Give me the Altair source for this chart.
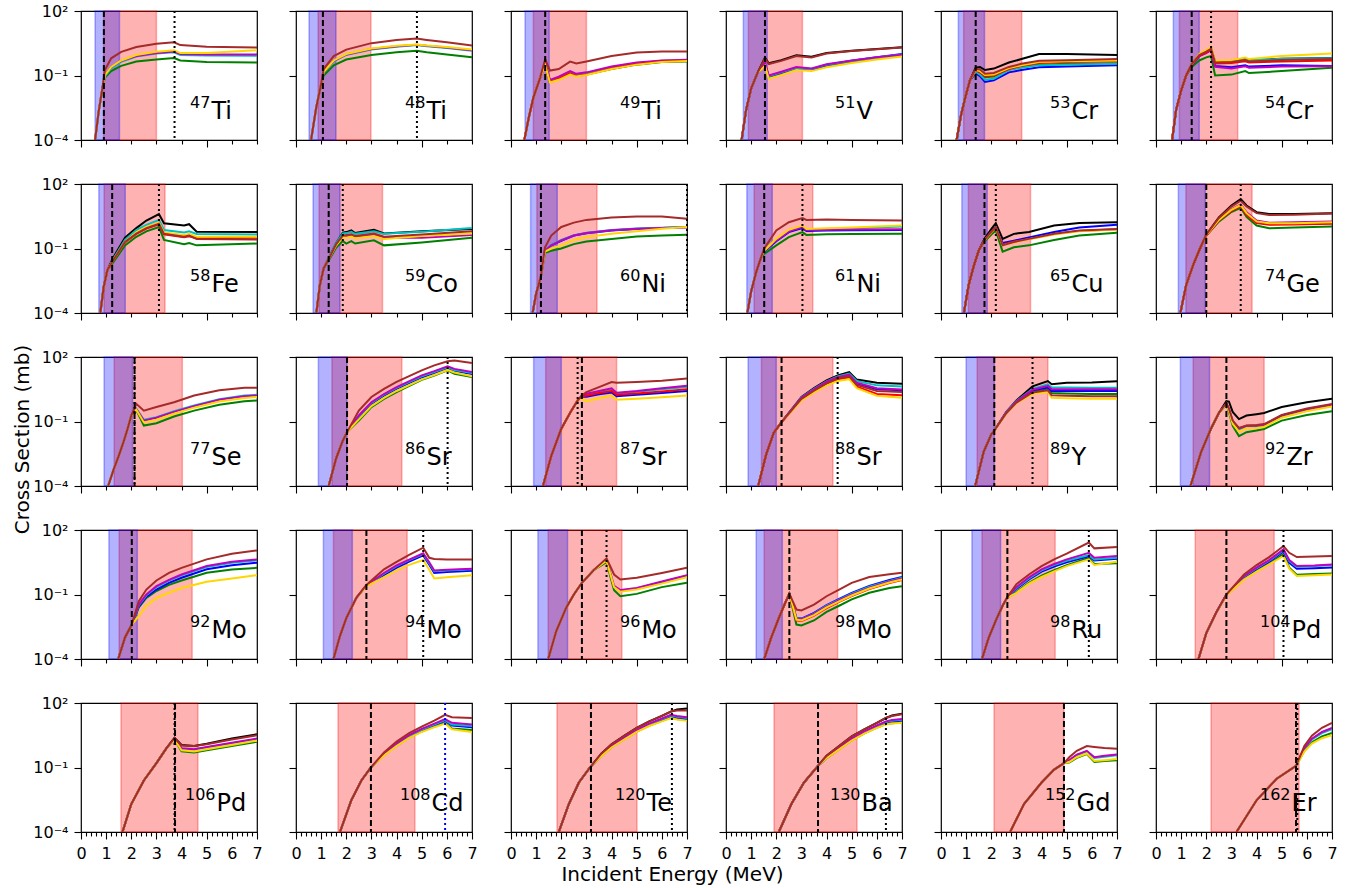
import altair as alt
import pandas as pd

# ---------------------------------------------------------------- panel metadata
ELEMENTS = ["Ti", "Ti", "Ti", "V", "Cr", "Cr",
            "Fe", "Co", "Ni", "Ni", "Cu", "Ge",
            "Se", "Sr", "Sr", "Sr", "Y", "Zr",
            "Mo", "Mo", "Mo", "Mo", "Ru", "Pd",
            "Pd", "Cd", "Te", "Ba", "Gd", "Er"]
MASSES = [47, 48, 49, 51, 53, 54,
          58, 59, 60, 61, 65, 74,
          77, 86, 87, 88, 89, 92,
          92, 94, 96, 98, 98, 104,
          106, 108, 120, 130, 152, 162]

# shaded energy windows (MeV); None = window not drawn
BLUE_LO = [0.56, 0.52, 0.56, 0.69, 0.69, 0.69,
           0.71, 0.68, 0.78, 0.83, 0.83, 0.89,
           0.92, 0.89, 0.90, 0.88, 1.00, 0.97,
           1.11, 1.09, 1.07, 1.20, 1.23, None,
           None, None, None, None, None, None]
BLUE_HI = [1.53, 1.59, 1.52, 1.64, 1.73, 1.72,
           1.76, 1.75, 1.84, 1.84, 1.84, 1.96,
           2.05, 2.03, 2.00, 2.00, 2.12, 2.13,
           2.24, 2.24, 2.25, 2.24, 2.37, None,
           None, None, None, None, None, None]
RED_LO = [0.90, 0.88, 0.89, 0.89, 0.90, 0.93,
          0.92, 0.92, 1.03, 1.12, 1.09, 1.19,
          1.32, 1.43, 1.38, 1.41, 1.44, 1.48,
          1.52, 1.49, 1.48, 1.52, 1.63, 1.56,
          1.59, 1.67, 1.83, 1.91, 2.11, 2.19]
RED_HI = [3.00, 2.98, 3.00, 3.04, 3.21, 3.25,
          3.34, 3.44, 3.42, 3.45, 3.56, 3.82,
          4.03, 4.21, 4.20, 4.25, 4.25, 4.30,
          4.42, 4.42, 4.41, 4.44, 4.54, 4.70,
          4.65, 4.73, 5.01, 5.21, 4.89, 5.69]

# vertical markers (MeV)
DASHED = [0.91, 1.07, 1.36, 1.55, 1.38, 1.42,
          1.24, 1.30, 1.19, 1.52, 1.73, 2.00,
          2.13, 2.03, 2.82, 2.21, 2.12, 2.80,
          2.02, 2.80, 2.82, 2.52, 2.64, 2.80,
          3.74, 2.98, 3.18, 3.66, 4.89, 5.57]
DOTTED = [3.72, 4.81, None, None, None, 2.19,
          3.10, 1.86, 7.00, 3.04, 2.18, 3.37,
          2.13, 6.03, 2.65, 4.44, 3.64, None,
          None, 5.06, 3.80, None, 5.88, 5.07,
          3.72, 5.93, 6.40, 6.36, None, 5.62]
DOTTED_COLOR = ["#000000"] * 25 + ["#0000ff"] + ["#000000"] * 4

# ---------------------------------------------------------------- cross sections (mb)
# "rise": common low-energy branch [E, sigma]; "x": energies of the branch-resolved part
TI47 = {"rise": [[0.56, 0.0001], [0.7, 0.002], [0.85, 0.025]],
        "x": [0.95, 1.2, 1.6, 2.2, 3.0, 3.7, 3.95, 5.0, 7.0],
        "brown": [0.18, 0.63, 1.26, 2.1, 3.0, 3.5, 2.6, 2.2, 2.0],
        "gold": [0.1, 0.25, 0.5, 0.9, 1.26, 1.5, 1.1, 1.1, 1.5],
        "magenta": [0.1, 0.25, 0.48, 0.8, 1.1, 1.3, 1.0, 0.95, 0.95],
        "cyan": [0.09, 0.22, 0.43, 0.76, 1.05, 1.2, 0.9, 0.85, 0.83],
        "green": [0.08, 0.16, 0.28, 0.45, 0.56, 0.65, 0.5, 0.42, 0.4]}
TI48 = {"rise": [[0.6, 0.0001], [0.8, 0.003], [1.0, 0.04]],
        "x": [1.1, 1.5, 2.0, 3.0, 4.0, 4.8, 5.2, 6.0, 7.0],
        "brown": [0.2, 0.8, 1.6, 3.2, 4.5, 5.2, 4.5, 3.5, 2.5],
        "gold": [0.15, 0.5, 1.0, 1.8, 2.4, 2.8, 2.5, 2.1, 1.6],
        "magenta": [0.15, 0.48, 0.95, 1.7, 2.3, 2.7, 2.4, 2.0, 1.5],
        "cyan": [0.14, 0.45, 0.9, 1.6, 2.2, 2.6, 2.3, 1.9, 1.4],
        "green": [0.1, 0.3, 0.55, 0.9, 1.2, 1.4, 1.2, 0.95, 0.7]}
TI49 = {"rise": [[0.53, 0.0001], [0.7, 0.001], [0.89, 0.0095], [1.16, 0.079]],
        "x": [1.36, 1.55, 1.9, 2.35, 2.6, 3.0, 4.0, 5.0, 6.0, 7.0],
        "brown": [0.58, 0.17, 0.2, 0.44, 0.36, 0.45, 0.81, 1.17, 1.29, 1.29],
        "magenta": [0.35, 0.063, 0.089, 0.16, 0.12, 0.14, 0.26, 0.4, 0.5, 0.54],
        "cyan": [0.34, 0.056, 0.079, 0.14, 0.107, 0.126, 0.23, 0.36, 0.48, 0.51],
        "red": [0.32, 0.05, 0.071, 0.126, 0.095, 0.11, 0.21, 0.33, 0.45, 0.48],
        "gold": [0.3, 0.047, 0.063, 0.11, 0.089, 0.105, 0.2, 0.32, 0.43, 0.47],
        "green": [0.32, 0.05, 0.071, 0.126, 0.095, 0.11, 0.2, 0.32, 0.42, 0.45]}
V51 = {"rise": [[0.62, 0.0001], [0.8, 0.0025], [1.0, 0.025], [1.25, 0.13]],
       "x": [1.55, 1.7, 2.2, 2.8, 3.4, 4.0, 5.0, 6.0, 7.0],
       "black": [0.68, 0.37, 0.52, 0.87, 0.74, 1.1, 1.42, 1.7, 2.05],
       "brown": [0.63, 0.34, 0.48, 0.81, 0.69, 1.05, 1.38, 1.66, 2.0],
       "magenta": [0.38, 0.1, 0.15, 0.25, 0.21, 0.33, 0.5, 0.71, 0.93],
       "cyan": [0.35, 0.093, 0.14, 0.23, 0.2, 0.32, 0.48, 0.69, 0.95],
       "blue": [0.34, 0.087, 0.126, 0.22, 0.19, 0.3, 0.48, 0.71, 1.0],
       "green": [0.32, 0.083, 0.12, 0.21, 0.18, 0.28, 0.44, 0.63, 0.87],
       "gold": [0.28, 0.071, 0.105, 0.18, 0.16, 0.24, 0.38, 0.55, 0.76]}
CR53 = {"rise": [[0.62, 0.0001], [0.8, 0.0015], [0.95, 0.008], [1.15, 0.06]],
        "x": [1.38, 1.55, 1.75, 2.1, 2.7, 3.2, 3.9, 5.0, 7.0],
        "black": [0.23, 0.25, 0.18, 0.21, 0.4, 0.58, 1.0, 1.0, 0.89],
        "brown": [0.2, 0.19, 0.12, 0.13, 0.25, 0.35, 0.48, 0.51, 0.58],
        "gold": [0.18, 0.16, 0.105, 0.11, 0.22, 0.3, 0.42, 0.46, 0.5],
        "red": [0.17, 0.14, 0.093, 0.1, 0.2, 0.28, 0.38, 0.42, 0.46],
        "green": [0.16, 0.126, 0.083, 0.089, 0.19, 0.25, 0.32, 0.35, 0.37],
        "cyan": [0.15, 0.11, 0.063, 0.071, 0.18, 0.23, 0.3, 0.32, 0.35],
        "blue": [0.126, 0.093, 0.05, 0.06, 0.14, 0.18, 0.24, 0.26, 0.3]}
CR54 = {"rise": [[0.64, 0.0001], [0.8, 0.0025], [1.0, 0.02], [1.2, 0.1]],
        "x": [1.42, 1.72, 2.0, 2.19, 2.35, 3.0, 3.55, 3.7, 5.0, 7.0],
        "gold": [0.34, 1.0, 1.5, 2.14, 0.48, 0.51, 0.69, 0.58, 0.81, 1.05],
        "black": [0.34, 0.95, 1.4, 1.9, 0.45, 0.48, 0.6, 0.52, 0.6, 0.65],
        "cyan": [0.33, 0.9, 1.3, 1.8, 0.44, 0.46, 0.56, 0.5, 0.6, 0.63],
        "brown": [0.34, 0.9, 1.3, 1.75, 0.4, 0.42, 0.52, 0.45, 0.52, 0.58],
        "red": [0.32, 0.85, 1.2, 1.6, 0.36, 0.38, 0.46, 0.4, 0.45, 0.5],
        "blue": [0.3, 0.8, 1.15, 1.55, 0.28, 0.24, 0.3, 0.26, 0.3, 0.28],
        "magenta": [0.3, 0.8, 1.1, 1.5, 0.25, 0.21, 0.27, 0.23, 0.26, 0.27],
        "green": [0.25, 0.5, 0.7, 0.81, 0.1, 0.11, 0.16, 0.13, 0.16, 0.23]}
FE58 = {"rise": [[0.77, 0.0001], [0.9, 0.0016], [1.05, 0.01]],
        "x": [1.25, 1.75, 2.2, 2.6, 3.1, 3.3, 4.1, 4.3, 4.6, 7.0],
        "black": [0.032, 0.32, 0.89, 2.0, 4.0, 1.5, 1.17, 1.35, 0.6, 0.58],
        "cyan": [0.028, 0.25, 0.71, 1.26, 2.14, 0.72, 0.56, 0.63, 0.47, 0.45],
        "gold": [0.025, 0.2, 0.56, 1.0, 1.58, 0.56, 0.42, 0.48, 0.35, 0.35],
        "red": [0.025, 0.19, 0.48, 0.85, 1.32, 0.45, 0.33, 0.37, 0.3, 0.32],
        "brown": [0.025, 0.2, 0.5, 0.89, 1.41, 0.48, 0.35, 0.4, 0.28, 0.26],
        "green": [0.02, 0.14, 0.35, 0.63, 1.0, 0.25, 0.16, 0.18, 0.14, 0.17]}
CO59 = {"rise": [[0.81, 0.0001], [0.95, 0.002], [1.1, 0.012]],
        "x": [1.3, 1.6, 1.86, 2.0, 2.2, 2.35, 3.1, 3.5, 5.0, 7.0],
        "black": [0.035, 0.18, 0.54, 0.58, 0.69, 0.52, 0.74, 0.5, 0.63, 0.81],
        "cyan": [0.035, 0.18, 0.5, 0.52, 0.6, 0.48, 0.63, 0.48, 0.6, 0.89],
        "brown": [0.032, 0.16, 0.4, 0.42, 0.46, 0.38, 0.5, 0.35, 0.45, 0.63],
        "gold": [0.032, 0.14, 0.33, 0.32, 0.36, 0.3, 0.38, 0.28, 0.38, 0.5],
        "magenta": [0.032, 0.14, 0.35, 0.35, 0.4, 0.33, 0.42, 0.32, 0.32, 0.42],
        "green": [0.028, 0.11, 0.22, 0.17, 0.22, 0.17, 0.24, 0.14, 0.19, 0.32]}
NI60 = {"rise": [[0.86, 0.0001], [1.0, 0.0008], [1.19, 0.005]],
        "x": [1.35, 1.6, 2.0, 2.5, 3.0, 4.0, 5.0, 6.0, 7.0],
        "brown": [0.11, 0.4, 1.0, 1.6, 2.14, 2.8, 3.1, 3.1, 2.4],
        "magenta": [0.079, 0.14, 0.24, 0.4, 0.52, 0.71, 0.83, 0.91, 0.95],
        "cyan": [0.079, 0.15, 0.25, 0.42, 0.54, 0.72, 0.85, 0.93, 1.0],
        "blue": [0.079, 0.14, 0.23, 0.4, 0.51, 0.69, 0.81, 0.91, 1.0],
        "gold": [0.071, 0.1, 0.14, 0.25, 0.34, 0.48, 0.63, 0.83, 1.0],
        "green": [0.063, 0.079, 0.1, 0.16, 0.21, 0.28, 0.36, 0.4, 0.44]}
NI61 = {"rise": [[0.85, 0.0001], [1.0, 0.001], [1.2, 0.008], [1.4, 0.04]],
        "x": [1.52, 2.0, 2.5, 3.04, 3.2, 4.0, 5.0, 7.0],
        "brown": [0.1, 0.69, 1.66, 2.63, 2.14, 2.24, 2.14, 2.0],
        "gold": [0.079, 0.28, 0.74, 1.17, 0.81, 0.87, 0.95, 1.17],
        "cyan": [0.079, 0.25, 0.66, 1.05, 0.76, 0.79, 0.87, 1.05],
        "magenta": [0.076, 0.24, 0.63, 1.0, 0.72, 0.74, 0.76, 0.79],
        "blue": [0.072, 0.22, 0.58, 0.89, 0.66, 0.69, 0.71, 0.72],
        "green": [0.056, 0.14, 0.34, 0.58, 0.42, 0.46, 0.47, 0.48]}
CU65 = {"rise": [[0.91, 0.0001], [1.1, 0.002], [1.3, 0.015], [1.5, 0.08]],
        "x": [1.73, 2.0, 2.18, 2.45, 2.9, 3.5, 4.5, 5.5, 7.0],
        "black": [0.28, 0.79, 1.51, 0.28, 0.48, 0.58, 1.17, 1.55, 1.66],
        "blue": [0.25, 0.63, 1.0, 0.18, 0.23, 0.33, 0.58, 0.95, 1.26],
        "red": [0.24, 0.56, 0.89, 0.15, 0.21, 0.28, 0.47, 0.66, 0.79],
        "gold": [0.24, 0.56, 0.93, 0.14, 0.19, 0.27, 0.45, 0.63, 0.76],
        "brown": [0.25, 0.6, 1.0, 0.14, 0.2, 0.28, 0.48, 0.68, 0.81],
        "green": [0.21, 0.45, 0.69, 0.072, 0.115, 0.14, 0.25, 0.4, 0.54]}
GE74 = {"rise": [[0.97, 0.0001], [1.2, 0.002], [1.5, 0.02], [1.75, 0.1]],
        "x": [2.0, 2.5, 3.0, 3.37, 3.6, 4.0, 4.5, 5.5, 7.0],
        "black": [0.44, 2.82, 10, 20, 10, 4.9, 4.0, 4.0, 4.4],
        "brown": [0.44, 2.63, 8.9, 16.6, 8.9, 4.4, 3.6, 3.7, 4.2],
        "magenta": [0.42, 2.24, 6.6, 11.2, 4.8, 2.0, 1.58, 1.66, 1.82],
        "gold": [0.42, 2.14, 6.3, 10.5, 4.4, 1.82, 1.48, 1.51, 1.66],
        "cyan": [0.42, 2.1, 6.0, 10, 4.0, 1.66, 1.35, 1.41, 1.51],
        "red": [0.4, 2.0, 5.6, 9.3, 3.7, 1.51, 1.26, 1.32, 1.41],
        "green": [0.4, 1.78, 5.0, 7.8, 3.0, 1.17, 0.87, 0.95, 1.05]}
SE77 = {"rise": [[1.08, 0.0001], [1.3, 0.0006], [1.5, 0.0025], [1.7, 0.012], [1.85, 0.045]],
        "x": [2.0, 2.2, 2.5, 3.0, 3.7, 4.5, 5.5, 6.5, 7.0],
        "brown": [0.19, 0.66, 0.32, 0.47, 0.79, 1.62, 2.82, 3.7, 3.7],
        "cyan": [0.19, 0.39, 0.12, 0.16, 0.3, 0.56, 1.1, 1.6, 1.74],
        "magenta": [0.19, 0.37, 0.11, 0.15, 0.28, 0.52, 1.02, 1.5, 1.62],
        "gold": [0.19, 0.35, 0.09, 0.12, 0.23, 0.44, 0.85, 1.25, 1.38],
        "green": [0.19, 0.34, 0.065, 0.083, 0.17, 0.32, 0.6, 0.87, 0.95]}
SR86 = {"rise": [[1.3, 0.0001], [1.6, 0.002], [1.85, 0.012], [2.03, 0.032]],
        "x": [2.5, 3.0, 3.5, 4.0, 5.0, 5.5, 6.03, 6.3, 7.0],
        "brown": [0.32, 1.38, 3.3, 6.9, 24, 41, 63, 68, 52],
        "magenta": [0.19, 0.79, 1.9, 4.0, 14, 22, 37, 28, 20],
        "cyan": [0.18, 0.74, 1.78, 3.7, 12.6, 20, 33, 25, 18],
        "blue": [0.16, 0.66, 1.58, 3.3, 11.2, 18, 30, 22, 16],
        "gold": [0.126, 0.52, 1.26, 2.63, 9.1, 14.5, 25, 19, 12.6],
        "green": [0.11, 0.47, 1.12, 2.34, 8.7, 13.8, 24, 16.6, 11.7]}
SR87 = {"rise": [[1.27, 0.0001], [1.6, 0.0025], [2.0, 0.046], [2.4, 0.32], [2.65, 0.95]],
        "x": [2.82, 3.0, 3.5, 4.0, 4.2, 5.0, 6.0, 7.0],
        "brown": [1.62, 2.34, 4.0, 6.9, 6.3, 6.9, 7.9, 10],
        "magenta": [1.62, 1.95, 2.63, 3.5, 2.2, 2.63, 3.55, 4.6],
        "cyan": [1.58, 1.78, 2.4, 3.16, 2.0, 2.4, 3.16, 4.0],
        "red": [1.51, 1.58, 2.1, 2.63, 1.74, 2.0, 2.51, 3.16],
        "blue": [1.45, 1.41, 1.86, 2.24, 1.51, 1.74, 2.14, 2.63],
        "gold": [1.15, 0.89, 1.2, 1.62, 1.02, 1.15, 1.35, 1.62]}
SR88 = {"rise": [[1.28, 0.0001], [1.6, 0.003], [1.9, 0.03]],
        "x": [2.21, 3.0, 3.5, 4.0, 4.44, 4.9, 5.2, 6.0, 7.0],
        "black": [0.093, 1.38, 3.55, 8.1, 14, 20, 8.9, 6.3, 5.75],
        "cyan": [0.093, 1.32, 3.3, 7.4, 12.6, 17, 7.6, 4.8, 4.3],
        "magenta": [0.093, 1.26, 3.16, 7.1, 11.5, 15, 6.3, 3.55, 3.1],
        "blue": [0.093, 1.2, 3.0, 6.6, 10.7, 14, 5.75, 3.16, 2.82],
        "brown": [0.093, 1.12, 2.75, 6.0, 10, 12.6, 5.0, 2.63, 2.34],
        "red": [0.093, 1.07, 2.5, 5.5, 8.9, 11.2, 4.2, 1.9, 1.66],
        "gold": [0.093, 0.95, 2.24, 4.8, 7.6, 9.3, 3.55, 1.58, 1.26]}
Y89 = {"rise": [[1.36, 0.0001], [1.7, 0.004], [2.0, 0.025]],
       "x": [2.12, 2.6, 3.0, 3.64, 4.25, 4.4, 5.0, 6.0, 7.0],
       "black": [0.038, 0.28, 0.95, 4.3, 7.6, 5.4, 6.3, 6.6, 7.4],
       "cyan": [0.038, 0.28, 0.89, 3.3, 5.4, 3.8, 3.8, 3.7, 3.7],
       "magenta": [0.038, 0.27, 0.85, 3.0, 4.6, 3.16, 3.16, 3.16, 3.16],
       "blue": [0.038, 0.26, 0.83, 2.82, 3.8, 2.63, 2.7, 2.63, 2.63],
       "green": [0.038, 0.25, 0.79, 2.5, 3.16, 2.1, 2.0, 1.9, 1.9],
       "brown": [0.038, 0.25, 0.76, 2.24, 2.82, 1.66, 1.58, 1.51, 1.51],
       "gold": [0.038, 0.24, 0.71, 1.95, 2.34, 1.26, 1.2, 1.15, 1.15]}
ZR92 = {"rise": [[1.37, 0.0001], [1.8, 0.004], [2.2, 0.05], [2.5, 0.25]],
        "x": [2.8, 2.9, 3.05, 3.3, 3.6, 4.0, 4.3, 5.0, 6.0, 7.0],
        "black": [0.89, 0.85, 0.28, 0.13, 0.19, 0.22, 0.25, 0.47, 0.79, 1.15],
        "brown": [0.71, 0.4, 0.11, 0.05, 0.066, 0.068, 0.076, 0.2, 0.4, 0.66],
        "magenta": [0.69, 0.38, 0.105, 0.047, 0.063, 0.063, 0.071, 0.19, 0.37, 0.6],
        "cyan": [0.68, 0.36, 0.1, 0.043, 0.058, 0.059, 0.066, 0.17, 0.35, 0.56],
        "gold": [0.63, 0.32, 0.079, 0.033, 0.048, 0.05, 0.056, 0.15, 0.3, 0.5],
        "green": [0.6, 0.28, 0.063, 0.021, 0.032, 0.038, 0.045, 0.11, 0.2, 0.3]}
MO92 = {"rise": [[1.48, 0.0001], [1.75, 0.001], [2.02, 0.004]],
        "x": [2.3, 2.6, 3.0, 3.5, 4.0, 5.0, 6.0, 7.0],
        "brown": [0.049, 0.17, 0.45, 1.02, 1.74, 4.3, 7.9, 11.2],
        "magenta": [0.034, 0.1, 0.245, 0.48, 0.85, 2.1, 3.3, 4.3],
        "cyan": [0.032, 0.092, 0.22, 0.44, 0.78, 1.9, 3.0, 3.9],
        "blue": [0.028, 0.08, 0.17, 0.35, 0.6, 1.48, 2.3, 3.0],
        "green": [0.025, 0.07, 0.145, 0.28, 0.45, 1.02, 1.45, 1.74],
        "gold": [0.01, 0.03, 0.069, 0.12, 0.2, 0.39, 0.56, 0.79]}
MO94 = {"rise": [[1.49, 0.0001], [1.75, 0.0012], [2.0, 0.008], [2.4, 0.07]],
        "x": [2.8, 3.5, 4.0, 4.5, 5.06, 5.3, 5.5, 6.0, 7.0],
        "brown": [0.28, 1.48, 3.3, 6.9, 15, 5.1, 4.5, 4.2, 4.3],
        "magenta": [0.26, 1.0, 2.24, 4.2, 8.3, 3.16, 1.32, 1.41, 1.58],
        "cyan": [0.26, 0.93, 2.1, 4.0, 7.6, 2.82, 1.2, 1.32, 1.48],
        "blue": [0.25, 0.79, 1.78, 3.4, 6.6, 2.4, 1.0, 1.1, 1.26],
        "gold": [0.24, 0.65, 1.32, 2.4, 4.0, 1.41, 0.56, 0.63, 0.79]}
MO96 = {"rise": [[1.48, 0.0001], [1.8, 0.002], [2.2, 0.025], [2.5, 0.1], [2.82, 0.35], [3.3, 1.4]],
        "x": [3.8, 4.1, 4.35, 5.0, 6.0, 7.0],
        "brown": [4.8, 0.85, 0.5, 0.6, 1.0, 1.74],
        "magenta": [4.0, 0.25, 0.16, 0.2, 0.4, 0.79],
        "cyan": [3.9, 0.23, 0.15, 0.19, 0.37, 0.74],
        "gold": [3.7, 0.22, 0.135, 0.17, 0.32, 0.63],
        "green": [3.16, 0.16, 0.083, 0.107, 0.22, 0.35]}
MO98 = {"rise": [[1.52, 0.0001], [1.8, 0.001], [2.1, 0.008], [2.35, 0.04]],
        "x": [2.52, 2.8, 3.0, 3.5, 4.0, 4.5, 5.0, 5.7, 6.5, 7.0],
        "brown": [0.11, 0.02, 0.018, 0.034, 0.083, 0.17, 0.35, 0.65, 0.87, 1.02],
        "blue": [0.11, 0.0083, 0.0076, 0.014, 0.032, 0.063, 0.12, 0.25, 0.47, 0.65],
        "cyan": [0.11, 0.008, 0.0072, 0.013, 0.03, 0.058, 0.11, 0.23, 0.43, 0.6],
        "magenta": [0.11, 0.0075, 0.007, 0.0125, 0.028, 0.054, 0.1, 0.21, 0.4, 0.56],
        "gold": [0.11, 0.0068, 0.0062, 0.011, 0.025, 0.048, 0.09, 0.19, 0.36, 0.5],
        "red": [0.11, 0.0063, 0.0058, 0.0105, 0.023, 0.045, 0.085, 0.18, 0.34, 0.47],
        "green": [0.11, 0.004, 0.0036, 0.0062, 0.0155, 0.03, 0.059, 0.12, 0.2, 0.245]}
RU98 = {"rise": [[1.63, 0.0001], [1.9, 0.001], [2.2, 0.007], [2.45, 0.03]],
        "x": [2.64, 3.0, 3.5, 4.0, 4.5, 5.0, 5.88, 6.1, 7.0],
        "brown": [0.076, 0.3, 0.85, 2.1, 4.3, 7.9, 26, 14, 16],
        "magenta": [0.076, 0.22, 0.63, 1.48, 2.63, 4.3, 8.7, 5.1, 6.2],
        "cyan": [0.074, 0.2, 0.56, 1.32, 2.34, 3.7, 6.8, 4.3, 5.1],
        "blue": [0.072, 0.18, 0.5, 1.15, 2.0, 3.16, 6.0, 3.8, 4.6],
        "green": [0.071, 0.13, 0.35, 0.76, 1.35, 2.3, 5.0, 2.63, 2.82],
        "gold": [0.071, 0.12, 0.32, 0.65, 1.2, 2.1, 4.3, 2.34, 3.3]}
PD104 = {"rise": [[1.69, 0.0001], [2.0, 0.0016], [2.4, 0.015]],
         "x": [2.8, 3.5, 4.0, 4.5, 5.07, 5.3, 5.6, 6.3, 7.0],
         "brown": [0.1, 0.85, 2.34, 5.5, 18, 8.7, 5.5, 5.9, 6.2],
         "magenta": [0.1, 0.71, 1.78, 4.0, 12.6, 4.0, 2.1, 2.24, 2.5],
         "cyan": [0.1, 0.68, 1.66, 3.7, 11.5, 3.55, 1.9, 2.1, 2.34],
         "blue": [0.095, 0.63, 1.51, 3.3, 10, 3.0, 1.58, 1.66, 1.78],
         "green": [0.093, 0.54, 1.26, 2.63, 7.6, 1.78, 0.83, 0.89, 0.95],
         "gold": [0.089, 0.5, 1.15, 2.5, 6.2, 1.58, 0.72, 0.79, 0.85]}
PD106 = {"rise": [[1.65, 0.0001], [2.0, 0.002], [2.5, 0.025], [3.0, 0.16], [3.4, 0.8]],
         "x": [3.72, 4.0, 4.5, 5.0, 6.0, 7.0],
         "black": [2.4, 1.12, 1.0, 1.26, 2.24, 3.5],
         "brown": [2.3, 1.05, 1.0, 1.2, 2.0, 3.16],
         "magenta": [2.14, 0.79, 0.71, 0.89, 1.41, 2.24],
         "cyan": [2.1, 0.74, 0.68, 0.85, 1.35, 2.1],
         "gold": [2.0, 0.63, 0.56, 0.71, 1.12, 1.78],
         "green": [2.0, 0.56, 0.5, 0.63, 1.0, 1.58]}
CD108 = {"rise": [[1.75, 0.0001], [2.2, 0.003], [2.6, 0.025]],
         "x": [2.98, 3.5, 4.0, 4.5, 5.0, 5.5, 5.93, 6.2, 7.0],
         "brown": [0.1, 0.5, 1.6, 4.0, 8.0, 15, 28, 22, 20],
         "magenta": [0.1, 0.45, 1.3, 3.2, 6.3, 11, 18, 12, 10],
         "cyan": [0.1, 0.42, 1.2, 3.0, 5.8, 10, 16, 10, 8.5],
         "blue": [0.1, 0.4, 1.15, 2.8, 5.5, 9.5, 15, 9, 7.5],
         "green": [0.1, 0.38, 1.05, 2.5, 4.8, 8.0, 12, 6.5, 5.5],
         "gold": [0.1, 0.36, 1.0, 2.4, 4.5, 7.5, 11, 6.0, 4.5]}
TE120 = {"rise": [[1.9, 0.0001], [2.3, 0.002], [2.7, 0.02]],
         "x": [3.14, 3.6, 4.0, 4.5, 5.0, 5.5, 6.0, 6.36, 6.6, 7.0],
         "black": [0.1, 0.45, 1.2, 3.0, 7, 14, 25, 40, 50, 55],
         "brown": [0.1, 0.45, 1.2, 3.0, 7, 14, 25, 40, 45, 45],
         "magenta": [0.1, 0.4, 1.0, 2.5, 5.5, 11, 19, 28, 25, 22],
         "cyan": [0.1, 0.39, 0.97, 2.4, 5.2, 10.5, 18, 26, 23, 20],
         "blue": [0.1, 0.38, 0.93, 2.3, 5.0, 10, 17, 24, 21, 18],
         "green": [0.1, 0.36, 0.88, 2.1, 4.7, 9, 15, 21, 18, 16],
         "gold": [0.1, 0.35, 0.85, 2.0, 4.5, 8.5, 14, 20, 17, 15]}
BA130 = {"rise": [[2.1, 0.0001], [2.6, 0.002], [3.1, 0.02]],
         "x": [3.66, 4.0, 4.5, 5.0, 5.5, 6.0, 6.36, 6.6, 7.0],
         "black": [0.12, 0.35, 1.0, 2.8, 6, 12, 20, 26, 32],
         "brown": [0.12, 0.35, 1.0, 2.8, 6, 12, 20, 25, 30],
         "magenta": [0.12, 0.3, 0.85, 2.2, 4.8, 9, 14, 16, 18],
         "cyan": [0.12, 0.29, 0.8, 2.1, 4.5, 8.5, 13, 15, 16.5],
         "blue": [0.12, 0.28, 0.77, 2.0, 4.3, 8, 12, 14, 15],
         "green": [0.12, 0.27, 0.72, 1.85, 3.9, 7.2, 10.5, 11.5, 12.5],
         "gold": [0.12, 0.27, 0.7, 1.8, 3.8, 7, 10, 11, 12]}
GD152 = {"rise": [[2.75, 0.0001], [3.3, 0.002], [4.0, 0.02], [4.5, 0.08]],
         "x": [4.89, 5.1, 5.4, 5.8, 6.1, 6.5, 7.0],
         "brown": [0.16, 0.3, 0.6, 1.0, 0.9, 0.8, 0.75],
         "magenta": [0.16, 0.22, 0.4, 0.6, 0.3, 0.35, 0.4],
         "cyan": [0.16, 0.21, 0.37, 0.55, 0.28, 0.32, 0.37],
         "gold": [0.16, 0.18, 0.3, 0.45, 0.2, 0.22, 0.25],
         "green": [0.16, 0.17, 0.28, 0.42, 0.18, 0.2, 0.22]}
ER162 = {"rise": [[3.2, 0.0001], [4.0, 0.003], [4.8, 0.03]],
         "x": [5.57, 5.9, 6.2, 6.6, 7.0],
         "brown": [0.12, 1.0, 3.0, 7.0, 12],
         "magenta": [0.12, 0.8, 2.2, 4.5, 7.0],
         "cyan": [0.12, 0.75, 2.0, 4.0, 6.0],
         "green": [0.12, 0.6, 1.5, 2.8, 4.0],
         "gold": [0.12, 0.55, 1.3, 2.3, 3.2]}

CURVES = [TI47, TI48, TI49, V51, CR53, CR54,
          FE58, CO59, NI60, NI61, CU65, GE74,
          SE77, SR86, SR87, SR88, Y89, ZR92,
          MO92, MO94, MO96, MO98, RU98, PD104,
          PD106, CD108, TE120, BA130, GD152, ER162]

# drawing order (first = bottom) and line colours
SERIES = ["black", "green", "blue", "cyan", "magenta", "red", "orange", "gold", "brown"]
SERIES_COLORS = ["#000000", "#008000", "#0000ff", "#00bfbf", "#bf00bf",
                 "#ff0000", "#ffa500", "#ffd700", "#a52a2a"]

# x tick positions: every 0.2 MeV on the labelled bottom row, whole MeV elsewhere
BOTTOM_TICKS = [round(0.2 * k, 1) for k in range(36)]
UPPER_TICKS = list(range(8))

# ---------------------------------------------------------------- layout
PANEL_W, PANEL_H = 176, 129
NCOLS, NROWS = 6, 5
FONT = "DejaVu Sans"

XSCALE = alt.Scale(domain=[0, 7], nice=False, zero=False)
YSCALE = alt.Scale(type="log", domain=[1e-4, 100], nice=False)
SERIES_KEYS = [f"{i}_{s}" for i, s in enumerate(SERIES)]
CSCALE = alt.Scale(domain=SERIES_KEYS, range=SERIES_COLORS)
IS_WHOLE = "abs(datum.value - round(datum.value)) < 0.001"


def x_axis(row, col):
    kw = dict(grid=False, domain=False, tickColor="black", tickWidth=1.1, title=None,
              labelFlush=False, labelOverlap=False)
    if row == NROWS - 1:
        kw.update(values=BOTTOM_TICKS, labels=True, labelFontSize=16, labelColor="black",
                  labelPadding=6, labelFont=FONT,
                  labelExpr=f"{IS_WHOLE} ? format(datum.value, 'd') : ''",
                  tickSize={"condition": {"test": IS_WHOLE, "value": 7}, "value": 4})
        if col == 2:
            kw.update(title="Incident Energy (MeV)", titleFontSize=20, titleFont=FONT,
                      titleFontWeight="normal", titleColor="black", titleX=161,
                      titleAlign="center", titlePadding=3)
    else:
        kw.update(values=UPPER_TICKS, labels=False,
                  tickSize={"condition": {"test": "datum.value == 0 || datum.value == 5",
                                          "value": 7}, "value": 4})
    return alt.Axis(**kw)


def y_axis(row, col):
    kw = dict(values=[1e-4, 1e-1, 1e2], grid=False, domain=False, tickColor="black",
              tickWidth=1.1, tickSize=7, title=None, labelFlush=False, labelOverlap=False)
    if col == 0:
        kw.update(labels=True, labelFontSize=16, labelColor="black", labelFont=FONT,
                  labelPadding=6,
                  labelExpr="datum.value > 10 ? '10²' : (datum.value > 0.01 ? '10⁻¹' : '10⁻⁴')")
        if row == 2:
            kw.update(title="Cross Section (mb)", titleFontSize=20, titleFont=FONT,
                      titleFontWeight="normal", titleColor="black", titlePadding=0,
                      titleY=82)
    else:
        kw.update(labels=False)
    return alt.Axis(**kw)


def curve_frame(spec):
    rows = []
    for name in SERIES:
        if name not in spec:
            continue
        key = f"{SERIES.index(name)}_{name}"
        for e, s in spec["rise"]:
            rows.append({"E": e, "sigma": s, "series": key})
        for e, s in zip(spec["x"], spec[name]):
            rows.append({"E": e, "sigma": s, "series": key})
    return pd.DataFrame(rows)


def panel(i):
    row, col = divmod(i, NCOLS)
    xa = x_axis(row, col)
    ya = y_axis(row, col)
    layers = []

    red = pd.DataFrame({"lo": [RED_LO[i]], "hi": [RED_HI[i]]})
    layers.append(alt.Chart(red).mark_rect(fill="#ff0000", fillOpacity=0.3,
                                           stroke="#ff0000", strokeOpacity=0.3,
                                           strokeWidth=1.5).encode(
        x=alt.X("lo:Q", scale=XSCALE, axis=xa), x2="hi:Q",
        y=alt.value(0), y2=alt.value(PANEL_H)))
    if BLUE_LO[i] is not None:
        blue = pd.DataFrame({"lo": [BLUE_LO[i]], "hi": [BLUE_HI[i]]})
        layers.append(alt.Chart(blue).mark_rect(fill="#0000ff", fillOpacity=0.3,
                                                stroke="#0000ff", strokeOpacity=0.3,
                                                strokeWidth=1.5).encode(
            x=alt.X("lo:Q", scale=XSCALE, axis=xa), x2="hi:Q",
            y=alt.value(0), y2=alt.value(PANEL_H)))

    layers.append(alt.Chart(curve_frame(CURVES[i])).mark_line(
        strokeWidth=2, clip=True).encode(
        x=alt.X("E:Q", scale=XSCALE, axis=xa),
        y=alt.Y("sigma:Q", scale=YSCALE, axis=ya),
        color=alt.Color("series:N", scale=CSCALE, legend=None),
        order=alt.Order("E:Q")))

    layers.append(alt.Chart(pd.DataFrame({"E": [DASHED[i]]})).mark_rule(
        color="black", strokeWidth=2, strokeDash=[6, 3]).encode(
        x=alt.X("E:Q", scale=XSCALE, axis=xa)))
    if DOTTED[i] is not None:
        layers.append(alt.Chart(pd.DataFrame({"E": [DOTTED[i]]})).mark_rule(
            color=DOTTED_COLOR[i], strokeWidth=2, strokeDash=[2, 3]).encode(
            x=alt.X("E:Q", scale=XSCALE, axis=xa)))

    mass = str(MASSES[i])
    x_num = 109 - 5 * (len(mass) - 2)
    x_el = x_num + 10.2 * len(mass) + 1
    lab = pd.DataFrame({"mass": [mass], "el": [ELEMENTS[i]]})
    layers.append(alt.Chart(lab).mark_text(
        align="left", baseline="alphabetic", fontSize=16, font=FONT, color="black").encode(
        x=alt.value(x_num), y=alt.value(97), text="mass:N"))
    layers.append(alt.Chart(lab).mark_text(
        align="left", baseline="alphabetic", fontSize=24, font=FONT, color="black").encode(
        x=alt.value(x_el), y=alt.value(108), text="el:N"))

    return alt.layer(*layers).properties(width=PANEL_W, height=PANEL_H)


chart = alt.concat(*[panel(i) for i in range(NROWS * NCOLS)],
                   columns=NCOLS, spacing={"row": 44, "column": 39},
                   bounds="flush").properties(
    padding={"left": 12, "top": 2, "right": 5, "bottom": 5}
).configure(font=FONT).configure_view(stroke="black", strokeWidth=1.2)

chart.save("out.html", embed_options={"renderer": "svg", "actions": False})
